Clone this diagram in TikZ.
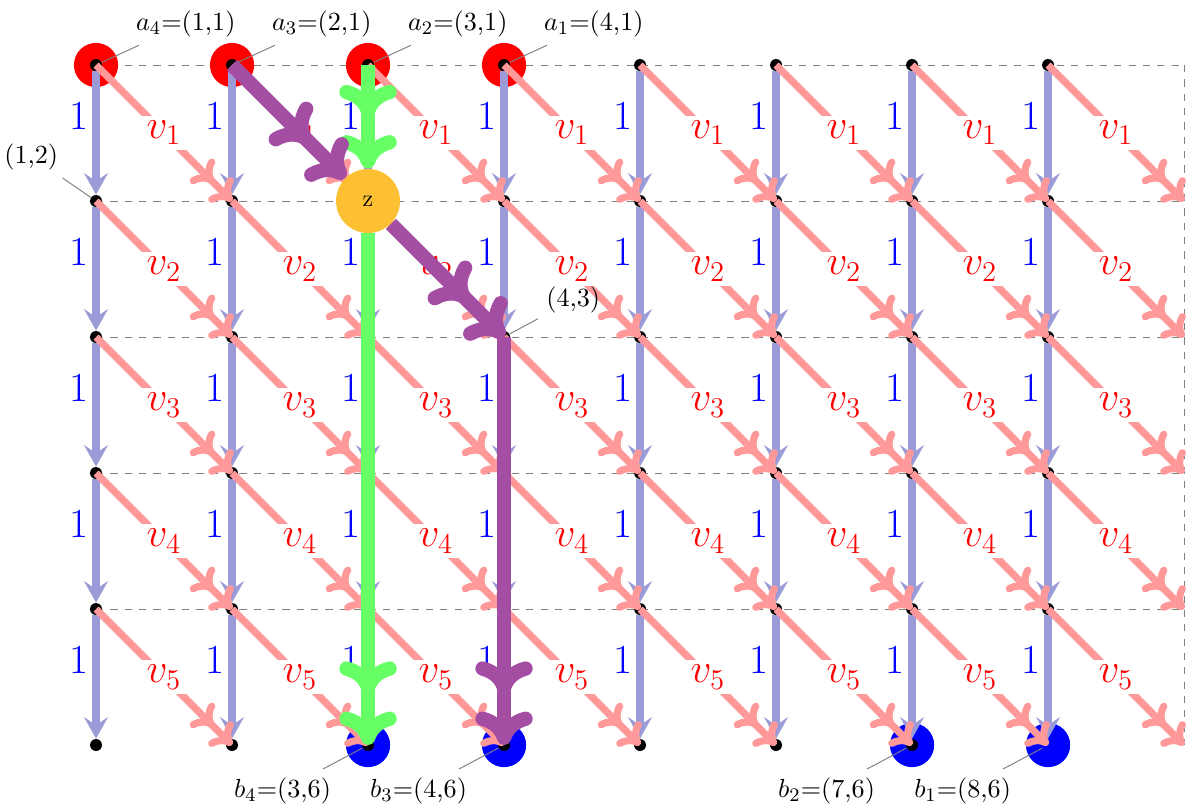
\documentclass[tikz,border=0pt]{standalone}
\usetikzlibrary{arrows.meta}

\definecolor{arcoblu}{RGB}{155,155,215}
\definecolor{arcorosa}{RGB}{255,153,153}
\definecolor{camminoverde}{RGB}{102,255,102}
\definecolor{camminoviola}{RGB}{163,77,163}
\definecolor{nodoz}{RGB}{252,192,50}

\pgfdeclarelayer{fronte}
\pgfsetlayers{main,fronte}

\tikzset{
    punto/.style={circle, fill=black, inner sep=0pt, minimum size=5pt},
    ancora/.style={circle, inner sep=0pt, minimum size=5pt, pin distance=0.8cm},
    sorgente/.style={circle, fill=red, inner sep=0pt, minimum size=0.65cm},
    pozzo/.style={circle, fill=blue, inner sep=0pt, minimum size=0.65cm},
    arcov/.style={line width=3pt, arcoblu, -{Stealth[length=9pt, width=10pt, inset=3.5pt]}},
    arcod/.style={line width=3pt, arcorosa, -{To[length=8pt, width=14pt, sep=3pt]To[length=8pt, width=14pt]}},
    cammino/.style={line width=6pt, -{To[length=14pt, width=24pt, sep=7pt]To[length=14pt, width=24pt]}},
    every pin/.style={font=\fontsize{10.95pt}{13pt}\selectfont},
    every pin edge/.style={gray, thin},
}

\begin{document}
\begin{tikzpicture}[x=2cm, y=2cm]
        \useasboundingbox (0.294,-0.522) rectangle (9.029,-6.463);

        % Griglia tratteggiata
        \foreach \j in {1,...,5}
            \draw[dashed, gray] (1,-\j) -- (9,-\j);
        \draw[dashed, gray] (9,-1) -- (9,-6);

        % Sorgenti e pozzi
        \node[sorgente] (a4) at (1,-1) {};
        \node[sorgente] (a3) at (2,-1) {};
        \node[sorgente] (a2) at (3,-1) {};
        \node[sorgente] (a1) at (4,-1) {};
        \node[pozzo] (b4) at (3,-6) {};
        \node[pozzo] (b3) at (4,-6) {};
        \node[pozzo] (b2) at (7,-6) {};

        % Vertici della griglia
        \foreach \i in {1,...,8}
            \foreach \j in {1,...,6}
                \node[punto] (p\i\j) at (\i,-\j) {};
        \foreach \j in {1,...,6}
            \coordinate (p9\j) at (9,-\j);
        \node[pozzo] (b1) at (8,-6) {};

        % Archi verticali - peso 1
        \foreach \i in {1,...,8}
            \foreach \j in {1,...,5} {
                \pgfmathtruncatemacro{\jj}{\j+1}
                \draw[arcov] (p\i\j) -- (p\i\jj) node[midway, anchor=south east, inner sep=0pt, xshift=-1.5pt, text=blue, font=\LARGE] {1};
            }

        % Archi diagonali - peso v_j
        \foreach \i in {1,...,8}
            \foreach \j in {1,...,5} {
                \pgfmathtruncatemacro{\ii}{\i+1}
                \pgfmathtruncatemacro{\jj}{\j+1}
                \draw[arcod] (p\i\j.center) -- (p\ii\jj.center) node[midway, fill=white, inner sep=2pt, text=red, font=\LARGE] {$v_{\j}$};
            }

        % Nodo z (in primo piano)
        \begin{pgfonlayer}{fronte}
            \node[circle, fill=nodoz, inner sep=0pt, minimum size=0.94cm] (z) at (3,-2) {z};
        \end{pgfonlayer}

        % Cammino verde
        \draw[cammino, camminoverde] (p31.center) -- (z);
        \draw[cammino, camminoverde] (z) -- (p36.center);

        % Cammino viola
        \draw[cammino, camminoviola] (p21.center) -- (z);
        \draw[cammino, camminoviola] (z) -- (p43.center);
        \draw[cammino, camminoviola] (p43.center) -- (p46.center);

        % Etichette
        \node[ancora, pin=32:{$a_4$=(1,1)}] (ea4) at (p11) {};
        \node[ancora, pin=32:{$a_3$=(2,1)}] (ea3) at (p21) {};
        \node[ancora, pin=32:{$a_2$=(3,1)}] (ea2) at (p31) {};
        \node[ancora, pin=32:{$a_1$=(4,1)}] (ea1) at (p41) {};
        \node[ancora, pin=142:{(1,2)}] (e12) at (p12) {};
        \node[ancora, pin=25:{(4,3)}] (e43) at (p43) {};
        \node[ancora, pin=220:{$b_4$=(3,6)}] (eb4) at (p36) {};
        \node[ancora, pin=220:{$b_3$=(4,6)}] (eb3) at (p46) {};
        \node[ancora, pin=220:{$b_2$=(7,6)}] (eb2) at (p76) {};
        \node[ancora, pin=220:{$b_1$=(8,6)}] (eb1) at (p86) {};
\end{tikzpicture}
\end{document}
